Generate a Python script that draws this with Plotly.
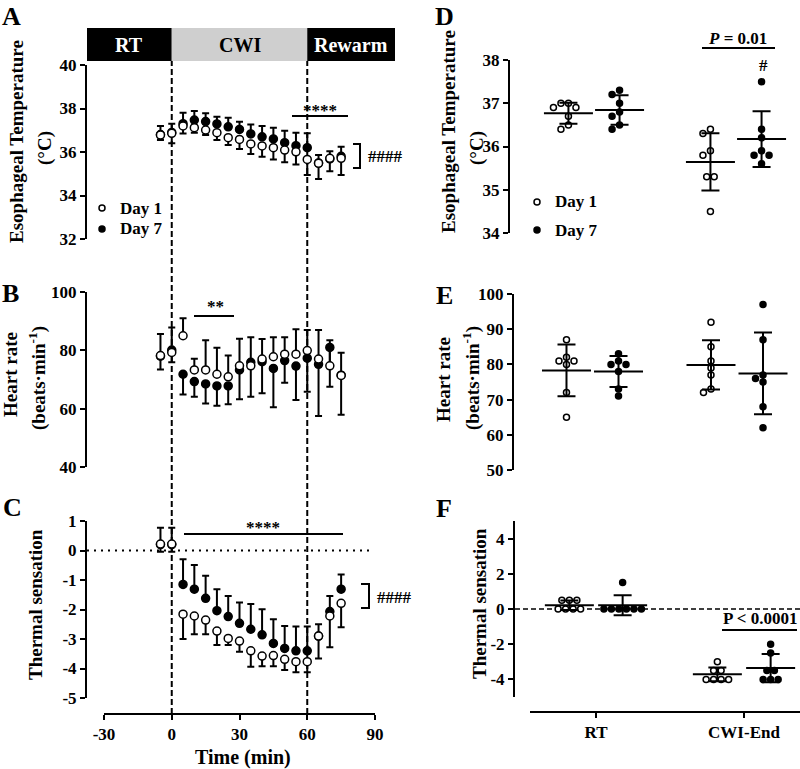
import numpy as np
import plotly.graph_objects as go

# ---------------- data ----------------
time_min = [-5, 0, 5, 10, 15, 20, 25, 30, 35, 40, 45, 50, 55, 60, 65, 70, 75]

tes_day1 = [36.78, 36.86, 37.20, 37.12, 37.01, 36.89, 36.66, 36.58, 36.37, 36.28, 36.20, 36.09, 36.01, 35.66, 35.48, 35.71, 35.71]
tes_day1_sd = [0.23, 0.46, 0.35, 0.23, 0.23, 0.34, 0.34, 0.44, 0.46, 0.50, 0.54, 0.56, 0.58, 0.72, 0.72, 0.60, 0.77]
tes_day7 = [36.80, 36.90, 37.30, 37.47, 37.40, 37.29, 37.16, 37.04, 36.83, 36.70, 36.60, 36.43, 36.29, 36.20, 35.50, 35.68, 35.80]
tes_day7_sd = [0.40, 0.40, 0.50, 0.41, 0.38, 0.33, 0.42, 0.35, 0.44, 0.50, 0.52, 0.55, 0.60, 0.66, 0.36, 0.36, 0.44]

hr_day1 = [78.2, 79.3, 85.0, 73.3, 73.3, 71.8, 70.9, 74.7, 74.7, 77.0, 77.8, 78.7, 78.7, 79.9, 77.0, 74.7, 71.4]
hr_day1_sd = [7.4, 8.5, 6.0, 3.8, 10.2, 9.1, 7.3, 9.3, 9.8, 6.9, 6.7, 5.8, 8.5, 7.1, 10.0, 8.8, 7.8]
hr_day7 = [78.0, 80.1, 71.8, 69.3, 68.5, 67.8, 67.8, 73.3, 75.9, 76.1, 73.8, 76.5, 74.6, 77.3, 75.2, 81.0, 71.5]
hr_day7_sd = [4.6, 4.2, 6.9, 5.2, 6.7, 6.8, 6.3, 10.1, 11.8, 10.8, 13.3, 7.6, 11.6, 11.5, 17.7, 13.5, 13.6]

ts_day1 = [0.22, 0.22, -2.16, -2.22, -2.36, -2.73, -2.98, -3.07, -3.40, -3.58, -3.56, -3.69, -3.77, -3.77, -2.90, -2.22, -1.79]
ts_day1_sd = [0.26, 0.26, 0.84, 0.62, 0.48, 0.47, 0.22, 0.36, 0.54, 0.34, 0.36, 0.36, 0.36, 0.36, 0.76, 1.06, 0.81]
ts_day7 = [0.20, 0.20, -1.15, -1.31, -1.62, -2.04, -2.24, -2.47, -2.67, -2.86, -3.15, -3.32, -3.40, -3.40, -2.90, -2.07, -1.31]
ts_day7_sd = [0.57, 0.57, 0.85, 0.82, 0.76, 0.73, 0.70, 0.71, 0.86, 0.87, 0.82, 0.76, 0.82, 0.82, 0.40, 0.53, 0.50]

phases = ["RT", "CWI", "Rewarm"]
phase_edges = [0, 60]  # min

groups = ["RT", "CWI-End"]
tes_rt_day1 = [37.0, 37.0, 36.9, 36.9, 36.7, 36.5, 36.4]
tes_rt_day7 = [37.3, 37.2, 37.0, 36.8, 36.7, 36.5, 36.4]
tes_cwi_day1 = [36.4, 36.3, 35.9, 35.8, 35.3, 35.3, 34.5]
tes_cwi_day7 = [37.5, 36.4, 36.2, 35.9, 35.8, 35.8, 35.6]
hr_rt_day1 = [87, 82, 81, 81, 80, 72, 65]
hr_rt_day7 = [83, 81, 80, 80, 78, 73, 71]
hr_cwi_day1 = [92, 85, 81, 79, 77, 73, 72]
hr_cwi_day7 = [97, 87, 77, 76, 75, 68, 62]
ts_rt_day1 = [0.5, 0.5, 0.5, 0, 0, 0, 0]
ts_rt_day7 = [1.5, 0, 0, 0, 0, 0, 0]
ts_cwi_day1 = [-3, -3.5, -3.5, -4, -4, -4, -4]
ts_cwi_day7 = [-2, -2.5, -3.5, -3.5, -4, -4, -4]

x_ticks = [-30, 0, 30, 60, 90]

# ---------------- layout helpers ----------------
W, H = 800, 769
FONT = "Liberation Serif"


def pxx(p):
    return p / W


def pxy(p):
    return 1 - p / H


def f(size, color="black"):
    return dict(family=FONT, size=size, color=color, weight="bold")


# left time axis: -30 at px 104, 90 at px 375; plot domain 87..395
LX0, LX1 = 87, 395
tscale = (375 - 104) / 120.0
xr_left = [-30 - (104 - LX0) / tscale, 90 + (LX1 - 375) / tscale]


def tpx(p):  # pixel -> minutes
    return -30 + (p - 104) / tscale


# right panels: (y axis px, RT centre px, CWI centre px)
right_geo = {
    "D": (510, 594, 736),
    "E": (514, 592.5, 737),
    "F": (515, 596, 744),
}


def right_range(key):
    a, c0, c1 = right_geo[key]
    s = c1 - c0
    return [(a - c0) / s, (W - c0) / s], s


def rpx(key, p):
    a, c0, c1 = right_geo[key]
    return (p - c0) / (c1 - c0)


fig = go.Figure()


# ---------------- time-course panels ----------------
def add_timecourse(xa, ya, m1, s1, m7, s7, day1_down):
    z = [0] * len(time_min)
    e7 = dict(type="data", symmetric=False, array=(s7 if day1_down else z), arrayminus=(z if day1_down else s7),
              color="black", thickness=2, width=3.5)
    e1 = dict(type="data", symmetric=False, array=(z if day1_down else s1), arrayminus=(s1 if day1_down else z),
              color="black", thickness=2, width=3.5)
    fig.add_trace(go.Scatter(x=time_min, y=m7, mode="markers", xaxis=xa, yaxis=ya, showlegend=False,
                             marker=dict(symbol="circle", size=8, color="black", line=dict(color="black", width=1.5)),
                             error_y=e7, cliponaxis=False, name="Day 7"))
    fig.add_trace(go.Scatter(x=time_min, y=m1, mode="markers", xaxis=xa, yaxis=ya, showlegend=False,
                             marker=dict(symbol="circle", size=8, color="white", line=dict(color="black", width=1.5)),
                             error_y=e1, cliponaxis=False, name="Day 1"))


add_timecourse("x", "y", tes_day1, tes_day1_sd, tes_day7, tes_day7_sd, True)
add_timecourse("x2", "y2", hr_day1, hr_day1_sd, hr_day7, hr_day7_sd, False)
add_timecourse("x3", "y3", ts_day1, ts_day1_sd, ts_day7, ts_day7_sd, True)


# ---------------- scatter-dot panels ----------------
def swarm(vals, ppx, ppy, d):
    n = len(vals)
    order = sorted(range(n), key=lambda i: -vals[i])
    placed = []
    offs = [0.0] * n
    cands = [0.0]
    for k in range(1, 30):
        cands += [-k * d / 2, k * d / 2]
    for i in order:
        yy = vals[i] * ppy
        for c in cands:
            if all((c - a) ** 2 + (yy - b) ** 2 >= (0.92 * d) ** 2 for a, b in placed):
                break
        placed.append((c, yy))
        offs[i] = c
    for v in set(vals):
        idx = [i for i in range(n) if vals[i] == v]
        if len(idx) < 2:
            continue
        others = [abs(vals[j] - v) * ppy for j in range(n) if vals[j] != v]
        if all(o >= d for o in others):
            srt = sorted(idx, key=lambda i: offs[i])
            k = len(idx)
            for r, i in enumerate(srt):
                offs[i] = (r - (k - 1) / 2) * d
    return [o / ppx for o in offs]


right_y = {
    "D": dict(dom=(233, 60), rng=[34, 38]),
    "E": dict(dom=(470, 294), rng=[50, 100]),
    "F": dict(dom=(697, 521), rng=[-5, 5]),
}
DAY_OFF = 0.18


def add_dots(key, xa, ya, datasets):
    (r0, r1), ppx = right_range(key)
    yd = right_y[key]
    ppy = (yd["dom"][0] - yd["dom"][1]) / (yd["rng"][1] - yd["rng"][0])
    for g, (d1, d7) in enumerate(datasets):
        for vals, off, fill in ((d1, -DAY_OFF, "white"), (d7, DAY_OFF, "black")):
            jit = swarm(vals, ppx, ppy, 7.5)
            xs = [g + off + j for j in jit]
            fig.add_trace(go.Scatter(x=xs, y=vals, mode="markers", xaxis=xa, yaxis=ya, showlegend=False,
                                     marker=dict(symbol="circle", size=6, color=fill,
                                                 line=dict(color="black", width=1.5)),
                                     cliponaxis=False))
            m = float(np.mean(vals))
            sd = float(np.std(vals, ddof=1))
            fig.add_trace(go.Scatter(x=[g + off], y=[m], mode="markers", xaxis=xa, yaxis=ya, showlegend=False,
                                     marker=dict(symbol="line-ew", size=35, color="black",
                                                 line=dict(color="black", width=2)),
                                     error_y=dict(type="data", array=[sd], color="black", thickness=2, width=9),
                                     cliponaxis=False))


add_dots("D", "x4", "y4", [(tes_rt_day1, tes_rt_day7), (tes_cwi_day1, tes_cwi_day7)])
add_dots("E", "x5", "y5", [(hr_rt_day1, hr_rt_day7), (hr_cwi_day1, hr_cwi_day7)])
add_dots("F", "x6", "y6", [(ts_rt_day1, ts_rt_day7), (ts_cwi_day1, ts_cwi_day7)])


# ---------------- axes ----------------
def yax(dom, rng, anchor, tickvals):
    return dict(domain=[pxy(dom[0]), pxy(dom[1])], range=rng, anchor=anchor, showline=True, linewidth=2,
                linecolor="black", ticks="outside", ticklen=5, tickwidth=2, tickcolor="black",
                tickvals=tickvals, ticktext=[str(v) for v in tickvals],
                tickfont=f(17), showgrid=False, zeroline=False, fixedrange=True)


def hidden_x(dom, rng, anchor):
    return dict(domain=dom, range=rng, anchor=anchor, visible=False, showgrid=False, zeroline=False,
                fixedrange=True)


ldom = [pxx(LX0), pxx(LX1)]
rD, _ = right_range("D")
rE, _ = right_range("E")
rF, _ = right_range("F")

layout = dict(
    width=W, height=H, margin=dict(l=0, r=0, t=0, b=0, autoexpand=False),
    paper_bgcolor="white", plot_bgcolor="rgba(0,0,0,0)",
    font=f(17), showlegend=False,
    xaxis=hidden_x(ldom, xr_left, "y"),
    xaxis2=hidden_x(ldom, xr_left, "y2"),
    xaxis3=dict(domain=ldom, range=xr_left, anchor="free", position=pxy(714), showline=False,
                ticks="outside", ticklen=5, tickwidth=2, tickcolor="black", tickvals=x_ticks,
                ticktext=[str(v) for v in x_ticks], tickfont=f(17), showgrid=False, zeroline=False,
                fixedrange=True),
    yaxis=yax((239, 65), [32, 40], "x", [32, 34, 36, 38, 40]),
    yaxis2=yax((467, 292), [40, 100], "x2", [40, 60, 80, 100]),
    yaxis3=yax((698, 521), [-5, 1], "x3", [-5, -4, -3, -2, -1, 0, 1]),
    xaxis4=hidden_x([pxx(510), 1], rD, "y4"),
    xaxis5=hidden_x([pxx(514), 1], rE, "y5"),
    xaxis6=dict(domain=[pxx(515), 1], range=rF, anchor="free", position=pxy(712), showline=False,
                ticks="outside", ticklen=5, tickwidth=2, tickcolor="black", tickvals=[0, 1],
                ticktext=groups, tickfont=f(17), showgrid=False, zeroline=False, fixedrange=True),
    yaxis4=yax(right_y["D"]["dom"], right_y["D"]["rng"], "x4", [34, 35, 36, 37, 38]),
    yaxis5=yax(right_y["E"]["dom"], right_y["E"]["rng"], "x5", [50, 60, 70, 80, 90, 100]),
    yaxis6=yax(right_y["F"]["dom"], right_y["F"]["rng"], "x6", [-4, -2, 0, 2, 4]),
)
fig.update_layout(**layout)

shapes = []
ann = []


def text(t, xref, yref, x, y, size=17, color="black", xanchor="center", yanchor="middle", angle=0):
    ann.append(dict(text=t, xref=xref, yref=yref, x=x, y=y, showarrow=False, font=f(size, color),
                    xanchor=xanchor, yanchor=yanchor, textangle=angle))


# phase header bar
edges = [xr_left[0]] + phase_edges + [xr_left[1]]
fills = ["black", "#cfcfcf", "black"]
tcols = ["white", "black", "white"]
for i, name in enumerate(phases):
    shapes.append(dict(type="rect", xref="x", yref="paper", x0=edges[i], x1=edges[i + 1], y0=pxy(61), y1=pxy(28),
                       fillcolor=fills[i], line=dict(width=0), layer="above"))
    text(name, "x", "paper", (edges[i] + edges[i + 1]) / 2, pxy(45), 20, tcols[i])

# vertical dashed phase lines
for xe in phase_edges:
    shapes.append(dict(type="line", xref="x", yref="paper", x0=xe, x1=xe, y0=pxy(714), y1=pxy(61),
                       line=dict(color="black", width=2, dash="6px,3px"), layer="below"))

# C x-axis line, zero dotted line
shapes.append(dict(type="line", xref="x3", yref="paper", x0=-30, x1=90, y0=pxy(714), y1=pxy(714),
                   line=dict(color="black", width=2)))
shapes.append(dict(type="line", xref="x3", yref="y3", x0=xr_left[0], x1=tpx(370), y0=0, y1=0,
                   line=dict(color="black", width=2, dash="2px,5px"), layer="below"))

# F x-axis line and dashed zero line
shapes.append(dict(type="line", xref="x6", yref="paper", x0=rpx("F", 530), x1=rF[1], y0=pxy(712), y1=pxy(712),
                   line=dict(color="black", width=2)))
shapes.append(dict(type="line", xref="x6", yref="y6", x0=rF[0], x1=rF[1], y0=0, y1=0,
                   line=dict(color="black", width=1.5, dash="5px,3px"), layer="below"))


# significance bars
def hline_px(xref, xa, xb, ypix):
    shapes.append(dict(type="line", xref=xref, yref="paper", x0=xa, x1=xb, y0=pxy(ypix), y1=pxy(ypix),
                       line=dict(color="black", width=2)))


hline_px("x", tpx(292), tpx(348), 116)
text("****", "x", "paper", tpx(320), pxy(111))
hline_px("x2", tpx(194), tpx(234), 316)
text("**", "x2", "paper", tpx(215), pxy(306))
hline_px("x3", tpx(184), tpx(343), 534)
text("****", "x3", "paper", tpx(263), pxy(527))


# brackets (####)
def bracket(xref, xl, xr, ytop, ybot, tx, ty):
    path = "M {a},{t} L {b},{t} L {b},{bt} L {a},{bt}".format(a=xl, b=xr, t=pxy(ytop), bt=pxy(ybot))
    shapes.append(dict(type="path", xref=xref, yref="paper", path=path, line=dict(color="black", width=2)))
    text("####", xref, "paper", tx, pxy(ty), xanchor="left")


bracket("x", tpx(353), tpx(360), 144, 168, tpx(366), 157)
bracket("x3", tpx(361), tpx(369), 584, 608, tpx(375), 597)

# D: P = 0.01 and #
hline_px("x4", rpx("D", 702), rpx("D", 775), 48)
text("<i>P</i> = 0.01", "x4", "paper", rpx("D", 737), pxy(38))
text("#", "x4", "paper", rpx("D", 763), pxy(65))
# F: P < 0.0001
hline_px("x6", rpx("F", 722), rpx("F", 797), 630)
text("P < 0.0001", "x6", "paper", rpx("F", 760), pxy(618))


# legends (A and D)
def legend_item(cx, cy, fill, label):
    shapes.append(dict(type="circle", xref="paper", yref="paper", xsizemode="pixel", ysizemode="pixel",
                       xanchor=pxx(cx), yanchor=pxy(cy), x0=-3, x1=3, y0=-3, y1=3, fillcolor=fill,
                       line=dict(color="black", width=1.5)))
    text(label, "paper", "paper", pxx(cx + 16), pxy(cy), xanchor="left")


legend_item(102, 208, "white", "Day 1")
legend_item(102, 229, "black", "Day 7")
legend_item(537, 202, "white", "Day 1")
legend_item(537, 230, "black", "Day 7")


# axis titles
def vtitle(t, cx, cy, size=19):
    text(t, "paper", "paper", pxx(cx), pxy(cy), size, angle=-90)


vtitle("Esophageal Temperature", 17, 142)
vtitle("(°C)", 45, 148)
vtitle("Heart rate", 10, 375)
vtitle("(beats·min<sup>-1</sup>)", 37, 378)
vtitle("Thermal sensation", 35, 605)
vtitle("Esophageal Temperature", 449, 132)
vtitle("(°C)", 477, 148)
vtitle("Heart rate", 443, 380)
vtitle("(beats·min<sup>-1</sup>)", 471, 378)
vtitle("Thermal sensation", 479, 604)

text("Time (min)", "paper", "paper", pxx(243), pxy(757), 20)

# panel letters
text("A", "paper", "paper", pxx(11), 1, 26, yanchor="top")
text("D", "paper", "paper", pxx(444), 1, 26, yanchor="top")
for letter, cx, cy in (("B", 10, 294), ("C", 12, 507), ("E", 444, 295), ("F", 444, 508)):
    text(letter, "paper", "paper", pxx(cx), pxy(cy), 26)

fig.update_layout(shapes=shapes, annotations=ann)
fig.write_html("out.html", config={"displayModeBar": False},
               post_script="document.body.style.margin='0px';")
